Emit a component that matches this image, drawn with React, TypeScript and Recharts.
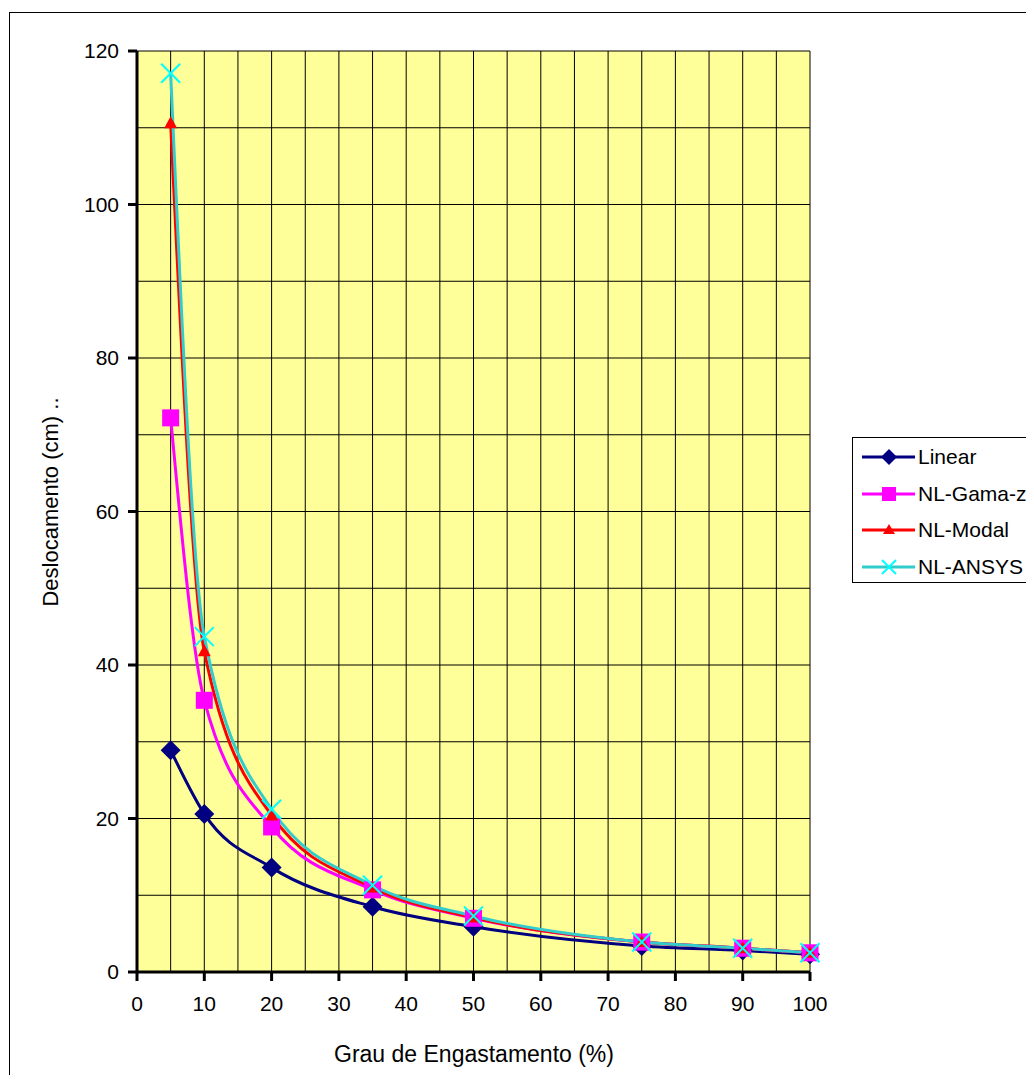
import React from 'react';
import { LineChart, Line, XAxis, YAxis, CartesianGrid } from 'recharts';

const grau = [5, 10, 20, 35, 50, 75, 90, 100];
const linear = [28.9, 20.6, 13.6, 8.5, 5.9, 3.4, 2.8, 2.3];
const gamaZ = [72.2, 35.4, 18.9, 10.7, 7.0, 3.9, 3.1, 2.5];
const modal = [110.6, 41.8, 20.4, 11.0, 7.1, 3.9, 3.1, 2.5];
const ansys = [117.1, 43.7, 21.2, 11.3, 7.3, 3.9, 3.1, 2.5];

const xTicks = [0, 10, 20, 30, 40, 50, 60, 70, 80, 90, 100];
const yTicks = [0, 20, 40, 60, 80, 100, 120];
const xGrid = [5, 10, 15, 20, 25, 30, 35, 40, 45, 50, 55, 60, 65, 70, 75, 80, 85, 90, 95, 100];
const yGrid = [10, 20, 30, 40, 50, 60, 70, 80, 90, 100, 110, 120];

const seriesNames = ['Linear', 'NL-Gama-z', 'NL-Modal', 'NL-ANSYS'];

const data = grau.map((g, i) => ({
  grau: g,
  linear: linear[i],
  gamaZ: gamaZ[i],
  modal: modal[i],
  ansys: ansys[i],
}));

const FONT = '"Liberation Sans", Arial, sans-serif';

type MarkerKind = 'diamond' | 'square' | 'triangle' | 'x';

const Marker = ({ kind, cx, cy }: { kind: MarkerKind; cx: number; cy: number }) => {
  if (cx == null || cy == null) return null;
  if (kind === 'diamond') {
    const r = 10;
    return <polygon points={`${cx},${cy - r} ${cx + r},${cy} ${cx},${cy + r} ${cx - r},${cy}`} fill="#000080" />;
  }
  if (kind === 'square') {
    const r = 8.5;
    return <rect x={cx - r} y={cy - r} width={2 * r} height={2 * r} fill="#FF00FF" />;
  }
  if (kind === 'triangle') {
    return <polygon points={`${cx},${cy - 7} ${cx + 6.5},${cy + 5} ${cx - 6.5},${cy + 5}`} fill="#FF0000" />;
  }
  const r = 9.5;
  return (
    <g stroke="#00FFFF" strokeWidth={2}>
      <line x1={cx - r} y1={cy - r} x2={cx + r} y2={cy + r} />
      <line x1={cx - r} y1={cy + r} x2={cx + r} y2={cy - r} />
    </g>
  );
};

const makeDot = (kind: MarkerKind) => (props: any) => (
  <Marker key={`${kind}-${props.index}`} kind={kind} cx={props.cx} cy={props.cy} />
);

const legendItems: { name: string; color: string; kind: MarkerKind }[] = [
  { name: seriesNames[0], color: '#000080', kind: 'diamond' },
  { name: seriesNames[1], color: '#FF00FF', kind: 'square' },
  { name: seriesNames[2], color: '#FF0000', kind: 'triangle' },
  { name: seriesNames[3], color: '#33CCCC', kind: 'x' },
];

export default function App() {
  return (
    <div style={{ position: 'relative', width: 1034, height: 1083, margin: -8, overflow: 'hidden', background: '#fff' }}>
      <div style={{ position: 'absolute', left: 9, top: 12, width: 1100, height: 1100, border: '1px solid #000' }} />
      <div style={{ position: 'absolute', left: 0, top: 0 }}>
        <LineChart width={1034} height={1083} data={data} margin={{ top: 51, right: 224, bottom: 0, left: 0 }}>
          <CartesianGrid
            fill="#FFFF99"
            stroke="#000"
            strokeWidth={1}
            verticalValues={xGrid}
            horizontalValues={yGrid}
          />
          <XAxis
            dataKey="grau"
            type="number"
            domain={[0, 100]}
            ticks={xTicks}
            height={111}
            stroke="#000"
            axisLine={{ stroke: '#000', strokeWidth: 3 }}
            tickLine={{ stroke: '#000', strokeWidth: 3 }}
            tickSize={9}
            tickMargin={15}
            tick={{ fill: '#000', fontSize: 21, fontFamily: FONT }}
            interval={0}
            label={{
              content: () => (
                <text x={474} y={1062} textAnchor="middle" fontSize={23} fontFamily={FONT} fill="#000">
                  Grau de Engastamento (%)
                </text>
              ),
            }}
          />
          <YAxis
            type="number"
            domain={[0, 120]}
            ticks={yTicks}
            width={137}
            stroke="#000"
            axisLine={{ stroke: '#000', strokeWidth: 3 }}
            tickLine={{ stroke: '#000', strokeWidth: 3 }}
            tickSize={9}
            tickMargin={9}
            tick={{ fill: '#000', fontSize: 21, fontFamily: FONT }}
            interval={0}
            label={{
              content: () => (
                <text
                  x={58}
                  y={502}
                  transform="rotate(-90 58 502)"
                  textAnchor="middle"
                  fontSize={22}
                  fontFamily={FONT}
                  fill="#000"
                >
                  Deslocamento (cm) ..
                </text>
              ),
            }}
          />
          <Line
            type="monotone"
            dataKey="linear"
            name={seriesNames[0]}
            stroke="#000080"
            strokeWidth={3}
            dot={makeDot('diamond')}
            activeDot={false}
            isAnimationActive={false}
          />
          <Line
            type="monotone"
            dataKey="gamaZ"
            name={seriesNames[1]}
            stroke="#FF00FF"
            strokeWidth={3}
            dot={makeDot('square')}
            activeDot={false}
            isAnimationActive={false}
          />
          <Line
            type="monotone"
            dataKey="modal"
            name={seriesNames[2]}
            stroke="#FF0000"
            strokeWidth={3}
            dot={makeDot('triangle')}
            activeDot={false}
            isAnimationActive={false}
          />
          <Line
            type="monotone"
            dataKey="ansys"
            name={seriesNames[3]}
            stroke="#33CCCC"
            strokeWidth={3}
            dot={makeDot('x')}
            activeDot={false}
            isAnimationActive={false}
          />
        </LineChart>
      </div>
      <div
        style={{
          position: 'absolute',
          left: 852,
          top: 437,
          width: 300,
          height: 146,
          border: '1px solid #000',
          background: '#fff',
          boxSizing: 'border-box',
        }}
      >
        {legendItems.map((it, i) => (
          <div
            key={it.name}
            style={{ position: 'absolute', left: 8, top: 6 + i * 36.5, height: 26, display: 'flex', alignItems: 'center' }}
          >
            <svg width={56} height={26} style={{ display: 'block' }}>
              <line x1={1} y1={13} x2={54} y2={13} stroke={it.color} strokeWidth={3} />
              {it.kind === 'diamond' && <polygon points="28,5 36,13 28,21 20,13" fill="#000080" />}
              {it.kind === 'square' && <rect x={21} y={6} width={14} height={14} fill="#FF00FF" />}
              {it.kind === 'triangle' && <polygon points="28,7 34,17 22,17" fill="#FF0000" />}
              {it.kind === 'x' && (
                <g stroke="#00FFFF" strokeWidth={2}>
                  <line x1={21} y1={6} x2={35} y2={20} />
                  <line x1={21} y1={20} x2={35} y2={6} />
                </g>
              )}
            </svg>
            <span style={{ fontFamily: FONT, fontSize: 21, color: '#000', marginLeft: 1, whiteSpace: 'nowrap' }}>
              {it.name}
            </span>
          </div>
        ))}
      </div>
    </div>
  );
}
